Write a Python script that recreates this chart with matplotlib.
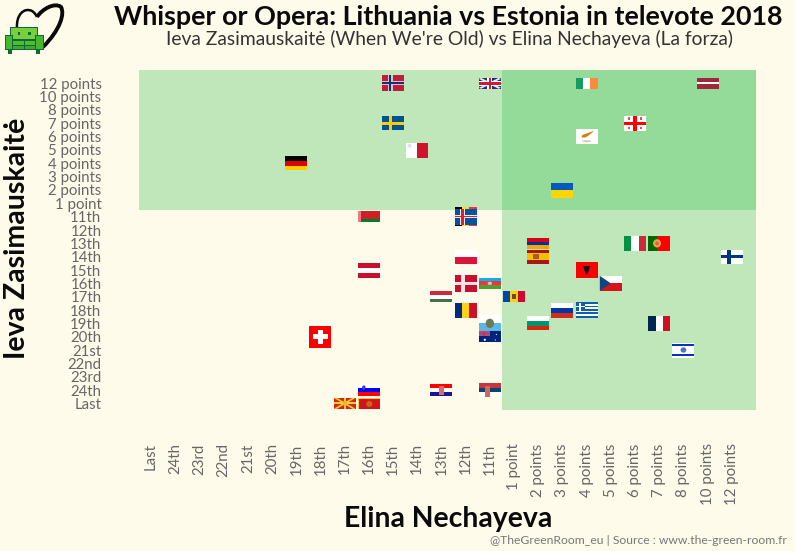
import matplotlib
matplotlib.use("Agg")
import matplotlib.pyplot as plt
from matplotlib.patches import Rectangle, Polygon, Ellipse, PathPatch
from matplotlib.path import Path
from matplotlib.transforms import Affine2D

ELINA_LEVELS = ["Last", "24th", "23rd", "22nd", "21st", "20th", "19th", "18th", "17th", "16th", "15th", "14th",
                "13th", "12th", "11th", "1 point", "2 points", "3 points", "4 points", "5 points", "6 points",
                "7 points", "8 points", "10 points", "12 points"]
IEVA_LEVELS = ELINA_LEVELS

countries = ["Norway", "UK", "Ireland", "Latvia", "Sweden", "Georgia", "Cyprus", "Malta", "Germany", "Ukraine",
             "Belarus", "Belgium", "Iceland", "Poland", "Austria", "Denmark", "Azerbaijan", "Hungary", "Moldova",
             "Romania", "San Marino", "Australia", "Switzerland", "Slovenia", "Montenegro", "Macedonia", "Croatia",
             "Serbia", "Armenia", "Spain", "Italy", "Portugal", "Albania", "Finland", "Czechia", "Russia", "Greece",
             "Bulgaria", "France", "Israel"]
elina = ["15th", "11th", "4 points", "10 points", "15th", "6 points", "4 points", "14th", "19th", "3 points",
         "16th", "12th", "12th", "12th", "16th", "12th", "11th", "13th", "1 point",
         "12th", "11th", "11th", "18th", "16th", "16th", "17th", "13th",
         "11th", "2 points", "2 points", "6 points", "7 points", "4 points", "12 points", "5 points", "3 points", "4 points",
         "2 points", "7 points", "8 points"]
ieva = ["12 points", "12 points", "12 points", "12 points", "7 points", "7 points", "6 points", "5 points", "4 points", "2 points",
        "11th", "11th", "11th", "14th", "15th", "16th", "16th", "17th", "17th",
        "18th", "19th", "20th", "20th", "24th", "Last", "Last", "24th",
        "24th", "13th", "14th", "13th", "13th", "15th", "14th", "16th", "18th", "18th",
        "19th", "19th", "21st"]

BG = "#FFFBEB"
GREEN = "#30BC4A"
TICK = "#666666"
FONT = "Lato"

plt.rcParams["font.family"] = FONT
fig = plt.figure(figsize=(7.95, 5.51), dpi=100, facecolor=BG)
W_PX, H_PX = 795, 551
ax = fig.add_axes([139 / W_PX, 1 - 410 / H_PX, 617 / W_PX, 340 / H_PX], facecolor=BG)
ax.set_xlim(-0.5, 25)
ax.set_ylim(-0.5, 25)
for s in ax.spines.values():
    s.set_visible(False)
ax.set_xticks(range(len(ELINA_LEVELS)))
ax.set_xticklabels(ELINA_LEVELS, rotation=90, fontsize=10.8, color=TICK)
ax.set_yticks(range(len(IEVA_LEVELS)))
ax.set_yticklabels(IEVA_LEVELS, fontsize=10.8, color=TICK, va="center_baseline")
ax.tick_params(length=0)
ax.tick_params(axis="x", pad=24)
ax.tick_params(axis="y", pad=27)

split = ELINA_LEVELS.index("1 point") - 0.5
ax.axvspan(split, 25, color=GREEN, alpha=0.3, lw=0, zorder=1)
ax.axhspan(split, 25, color=GREEN, alpha=0.3, lw=0, zorder=1)

PX_X = 25.5 / 617
PX_Y = 25.5 / 340
FLAG_W = 22 * PX_X


def hb(cols, w=None):
    w = w or [1] * len(cols)
    t = sum(w)
    out, y = [], 1.0
    for c, k in zip(cols, w):
        out.append(("r", 0, y - k / t, 1, y, c))
        y -= k / t
    return out


def vb(cols, w=None):
    w = w or [1] * len(cols)
    t = sum(w)
    out, x = [], 0.0
    for c, k in zip(cols, w):
        out.append(("r", x, 0, x + k / t, 1, c))
        x += k / t
    return out


def cross(bg, c, wx, wy, cx=0.38, inner=None, iwx=0, iwy=0):
    o = [("r", 0, 0, 1, 1, bg), ("r", cx - wx / 2, 0, cx + wx / 2, 1, c), ("r", 0, .5 - wy / 2, 1, .5 + wy / 2, c)]
    if inner:
        o += [("r", cx - iwx / 2, 0, cx + iwx / 2, 1, inner), ("r", 0, .5 - iwy / 2, 1, .5 + iwy / 2, inner)]
    return o


FLAGS = {
    "Norway": (16, cross("#BE1E3C", "#D8C4CC", .2, .25, .38, "#1C2E6C", .09, .11)),
    "UK": (11, [("r", 0, 0, 1, 1, "#20306E"),
                ("p", [(0, .9), (.1, 1), (1, .1), (.9, 0)], "#F0E6EA"),
                ("p", [(1, .9), (.9, 1), (0, .1), (.1, 0)], "#F0E6EA"),
                ("r", .38, 0, .62, 1, "#FFFFFF"), ("r", 0, .3, 1, .7, "#FFFFFF"),
                ("r", .45, 0, .55, 1, "#CE1A3A"), ("r", 0, .38, 1, .62, "#CE1A3A")]),
    "Ireland": (11, vb(["#169B62", "#FFFFFF", "#FF883E"])),
    "Latvia": (11, hb(["#9E2A39", "#FFFFFF", "#9E2A39"], [2, 1, 2])),
    "Sweden": (14, cross("#005293", "#FFCD00", .16, .2, .38)),
    "Georgia": (15, [("r", 0, 0, 1, 1, "#FFFFFF"), ("r", .42, 0, .58, 1, "#FF0000"), ("r", 0, .4, 1, .6, "#FF0000"),
                     ("r", .17, .73, .29, .91, "#F24A55"), ("r", .71, .73, .83, .91, "#F24A55"),
                     ("r", .17, .09, .29, .27, "#F24A55"), ("r", .71, .09, .83, .27, "#F24A55")]),
    "Cyprus": (15, [("r", 0, 0, 1, 1, "#FFFFFF"),
                    ("p", [(.27, .45), (.3, .6), (.52, .72), (.85, .9), (.62, .62), (.45, .45)], "#D57800"),
                    ("e", .5, .2, .42, .13, "#C8CCC0")]),
    "Malta": (15, vb(["#FFFFFF", "#CF142B"]) + [("e", .15, .78, .2, .24, "#E8E0E0")]),
    "Germany": (14, hb(["#000000", "#DD0000", "#FFCE00"])),
    "Ukraine": (15, hb(["#005BBB", "#FFD500"])),
    "Belarus": (11, [("r", 0, 0, 1, 1, "#CF2027"), ("r", 0, 0, 1, .33, "#007C30"),
                     ("r", 0, 0, .13, 1, "#EE7A80")]),
    "Belgium": (19, vb(["#000000", "#FDDA24", "#EF3340"])),
    "Iceland": (16, cross("#02529C", "#F0E8E8", .22, .22, .36, "#DC1E35", .1, .1)),
    "Poland": (14, hb(["#FFFFFF", "#DC143C"])),
    "Austria": (15, hb(["#C8102E", "#FFFFFF", "#C8102E"])),
    "Denmark": (17, cross("#C8102E", "#F2E4E6", .14, .16, .38)),
    "Azerbaijan": (11, hb(["#00B5E2", "#EF3340", "#509E2F"]) + [("e", .5, .5, .2, .3, "#F5B8BE")]),
    "Hungary": (11, hb(["#CD2A3E", "#FFFFFF", "#436F4D"])),
    "Moldova": (11, vb(["#0046AE", "#FFD200", "#CC092F"]) + [("r", .41, .27, .6, .75, "#6E4A20")]),
    "Romania": (15, vb(["#002B7F", "#FCD116", "#CE1126"])),
    "San Marino": (17, hb(["#FFFFFF", "#5EB6E4"]) + [("e", .5, .5, .38, .55, "#6E7A50")]),
    "Australia": (11, [("r", 0, 0, 1, 1, "#00247D"), ("r", 0, .55, .5, 1, "#8E5C90"),
                       ("r", .2, .55, .3, 1, "#E8274B"), ("r", 0, .72, .5, .85, "#E8274B"),
                       ("e", .27, .22, .1, .2, "#FFFFFF"), ("e", .8, .7, .06, .1, "#FFFFFF"),
                       ("e", .75, .2, .06, .1, "#FFFFFF")]),
    "Switzerland": (22, [("r", 0, 0, 1, 1, "#FF0000"), ("r", .4, .18, .6, .82, "#FFFFFF"),
                         ("r", .18, .4, .82, .6, "#FFFFFF")]),
    "Slovenia": (11, hb(["#FFFFFF", "#0000FF", "#FF0000"]) + [("e", .27, .72, .16, .4, "#3A3AD8")]),
    "Montenegro": (11, [("r", 0, 0, 1, 1, "#FFC72C"), ("r", .05, 0, 1, .86, "#D3121A"),
                        ("e", .52, .45, .28, .55, "#C4691C")]),
    "Macedonia": (11, [("r", 0, 0, 1, 1, "#D8221E"),
                       ("p", [(.42, .5), (.58, .5), (1, 0), (.85, 0)], "#F8D030"),
                       ("p", [(.42, .5), (.58, .5), (.15, 0), (0, 0)], "#F8D030"),
                       ("p", [(.42, .5), (.58, .5), (1, 1), (.85, 1)], "#F8D030"),
                       ("p", [(.42, .5), (.58, .5), (.15, 1), (0, 1)], "#F8D030"),
                       ("r", .45, 0, .55, 1, "#F8D030"), ("r", 0, .42, 1, .58, "#F8D030"),
                       ("e", .5, .5, .2, .45, "#F2B820")]),
    "Croatia": (11, hb(["#FF0000", "#FFFFFF", "#171796"]) + [("r", .4, .08, .6, .85, "#D86A70")]),
    "Serbia": (14, hb(["#C6363C", "#0C4076", "#FFFFFF"]) + [("r", .28, 0, .5, .8, "#CC6A60")]),
    "Armenia": (11, hb(["#D90012", "#0033A0", "#F2A800"])),
    "Spain": (14, hb(["#AA151B", "#F1BF00", "#AA151B"], [1, 2, 1]) + [("r", .25, .3, .52, .7, "#AE5A22")]),
    "Italy": (15, vb(["#009246", "#FFFFFF", "#CE2B37"])),
    "Portugal": (15, [("r", 0, 0, 1, 1, "#FF0000"), ("r", 0, 0, .4, 1, "#006600"),
                      ("e", .4, .5, .36, .55, "#E8A838"), ("e", .4, .5, .16, .25, "#D06060")]),
    "Albania": (16, [("r", 0, 0, 1, 1, "#FF0000"),
                     ("p", [(.35, .75), (.65, .75), (.6, .45), (.5, .2), (.4, .45)], "#141414")]),
    "Finland": (14, cross("#FFFFFF", "#003580", .18, .25, .36)),
    "Czechia": (15, [("r", 0, .5, 1, 1, "#FFFFFF"), ("r", 0, 0, 1, .5, "#D7141A"),
                     ("p", [(0, 0), (0, 1), (.5, .5)], "#11457E")]),
    "Russia": (15, hb(["#FFFFFF", "#0039A6", "#D52B1E"])),
    "Greece": (15, hb(["#0D5EAF", "#FFFFFF"] * 4 + ["#0D5EAF"]) +
               [("r", 0, .44, .41, 1, "#0D5EAF"), ("r", .16, .44, .25, 1, "#FFFFFF"), ("r", 0, .67, .41, .78, "#FFFFFF")]),
    "Bulgaria": (14, hb(["#FFFFFF", "#00966E", "#D62612"])),
    "France": (15, vb(["#002654", "#FFFFFF", "#CE1126"], [1.1, 1, 1])),
    "Israel": (15, [("r", 0, 0, 1, 1, "#FFFFFF"), ("r", 0, .74, 1, .88, "#0038B8"), ("r", 0, .12, 1, .26, "#0038B8"),
                    ("e", .5, .5, .26, .36, "#4E72CE")]),
}


def draw_flag(name, cx, cy):
    h_px, parts = FLAGS[name]
    h = h_px * PX_Y
    tr = Affine2D().scale(FLAG_W, h).translate(cx - FLAG_W / 2, cy - h / 2) + ax.transData
    for p in parts:
        kw = dict(transform=tr, lw=0, zorder=3, clip_on=False)
        if p[0] == "r":
            ax.add_patch(Rectangle((p[1], p[2]), p[3] - p[1], p[4] - p[2], fc=p[5], **kw))
        elif p[0] == "p":
            ax.add_patch(Polygon(p[1], closed=True, fc=p[2], **kw))
        else:
            ax.add_patch(Ellipse((p[1], p[2]), p[3], p[4], fc=p[5], **kw))


for name, e, i in zip(countries, elina, ieva):
    draw_flag(name, ELINA_LEVELS.index(e), IEVA_LEVELS.index(i))

fig.text(448 / W_PX, 1 - 17 / H_PX, "Whisper or Opera: Lithuania vs Estonia in televote 2018", ha="center", va="center",
         fontsize=19.4, fontweight="bold", color="#0A0A0A")
fig.text(449 / W_PX, 1 - 39 / H_PX, "Ieva Zasimauskaitė (When We're Old) vs Elina Nechayeva (La forza)", ha="center",
         va="center", fontsize=13.9, color="#333333")
fig.text(448 / W_PX, 1 - 519 / H_PX, "Elina Nechayeva", ha="center", va="center", fontsize=20.4, fontweight="bold",
         color="#0A0A0A")
fig.text(17 / W_PX, 1 - 238 / H_PX, "Ieva Zasimauskaitė", ha="center", va="center", rotation=90, fontsize=20.5,
         fontweight="bold", color="#0A0A0A")
fig.text(787 / W_PX, 1 - 540 / H_PX, "@TheGreenRoom_eu | Source : www.the-green-room.fr", ha="right", va="center",
         fontsize=8.75, color="#777777")

# logo drawn in pixel space
lg = fig.add_axes([0, 0, 1, 1], facecolor="none")
lg.set_xlim(0, W_PX)
lg.set_ylim(H_PX, 0)
lg.axis("off")
left = Path([(17, 28), (16, 15), (24, 7), (32, 11), (35, 13), (36, 15), (37, 17)], [1, 4, 4, 4, 4, 4, 4])
right = Path([(37, 17), (42, 9), (55, 2), (61, 7), (65, 14), (60, 30), (43, 47)], [1, 4, 4, 4, 4, 4, 4])
lg.add_patch(PathPatch(left, fc="none", ec="#0A0A0A", lw=1.8))
lg.add_patch(PathPatch(right, fc="none", ec="#0A0A0A", lw=2.8))
DK = "#0E6B38"
for (x0, y0, x1, y1, c) in [
    (8, 50, 12, 53.5, DK), (36, 50, 40, 53.5, DK),
    (10, 27, 38, 40, DK), (11, 28, 37, 39, "#78CF3E"),
    (9, 40, 39, 50, DK), (10, 41, 38, 44.5, "#52BC30"), (10, 45.5, 38, 49, "#3FA82A"),
    (4.5, 35, 13, 50, DK), (5.5, 36, 12, 49, "#45B82E"),
    (35, 35, 43.5, 50, DK), (36, 36, 42.5, 49, "#45B82E"),
    (23.5, 41, 25, 49, DK),
    (17.5, 32, 20, 34.5, DK), (28, 32, 30.5, 34.5, DK),
]:
    lg.add_patch(Rectangle((x0, y0), x1 - x0, y1 - y0, fc=c, lw=0))

fig.savefig("out.png", dpi=100, facecolor=BG)
